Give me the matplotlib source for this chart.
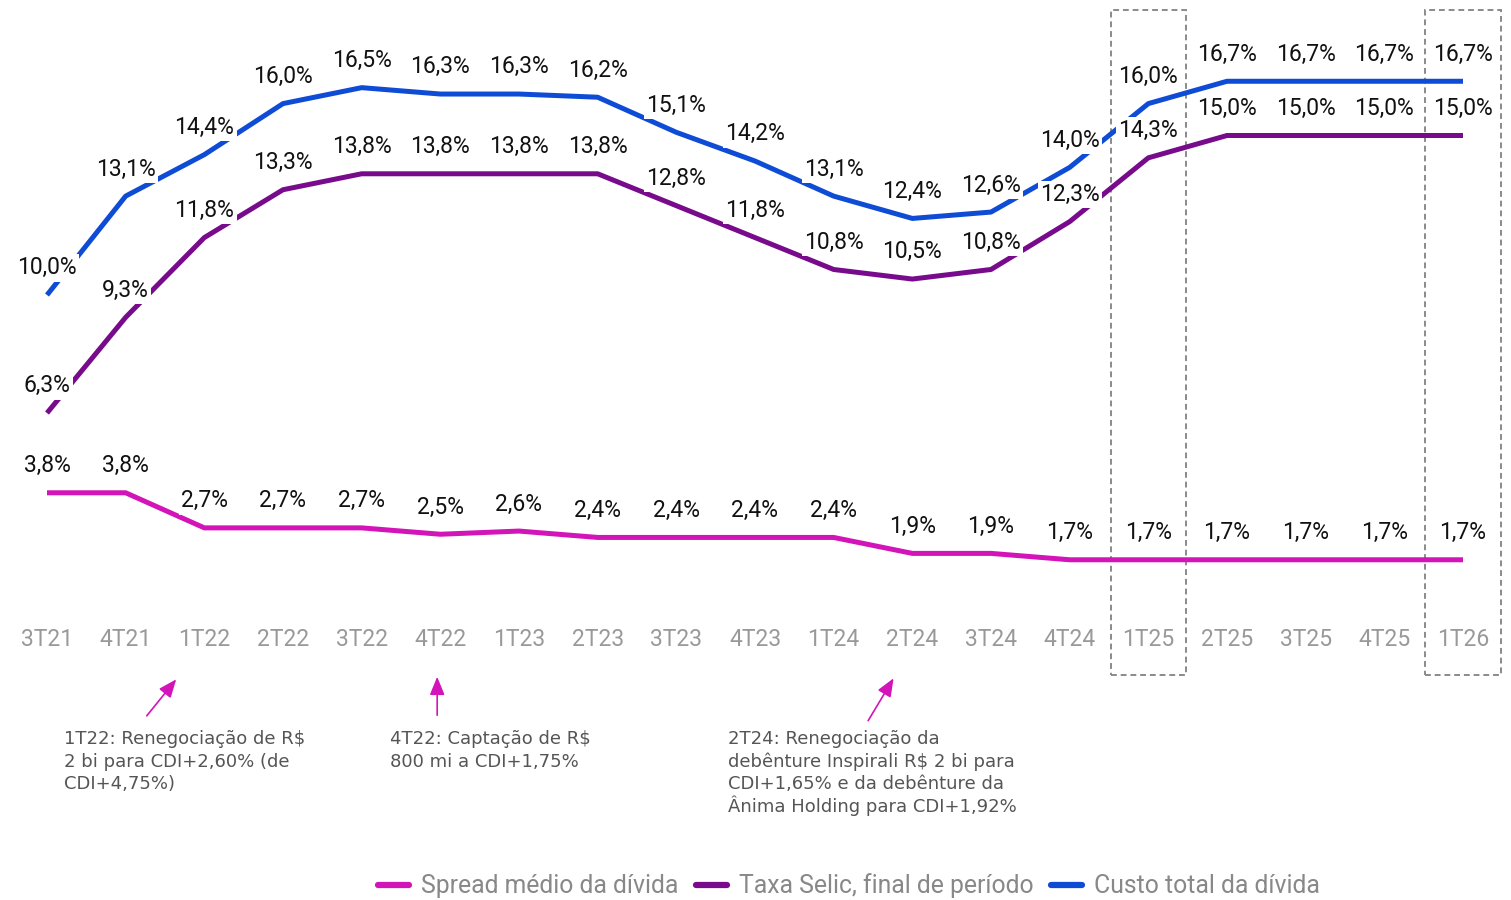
import matplotlib
matplotlib.use("Agg")
import matplotlib.pyplot as plt
from matplotlib import font_manager
from matplotlib.patches import Rectangle

categories = ["3T21", "4T21", "1T22", "2T22", "3T22", "4T22", "1T23", "2T23", "3T23", "4T23",
              "1T24", "2T24", "3T24", "4T24", "1T25", "2T25", "3T25", "4T25", "1T26"]
custo_total = [10.0, 13.1, 14.4, 16.0, 16.5, 16.3, 16.3, 16.2, 15.1, 14.2,
               13.1, 12.4, 12.6, 14.0, 16.0, 16.7, 16.7, 16.7, 16.7]
selic = [6.3, 9.3, 11.8, 13.3, 13.8, 13.8, 13.8, 13.8, 12.8, 11.8,
         10.8, 10.5, 10.8, 12.3, 14.3, 15.0, 15.0, 15.0, 15.0]
spread = [3.8, 3.8, 2.7, 2.7, 2.7, 2.5, 2.6, 2.4, 2.4, 2.4,
          2.4, 1.9, 1.9, 1.7, 1.7, 1.7, 1.7, 1.7, 1.7]
series_names = ["Spread médio da dívida", "Taxa Selic, final de período", "Custo total da dívida"]
highlight = ["1T25", "1T26"]
notes = [
    ("1T22", ["1T22: Renegociação de R$", "2 bi para CDI+2,60% (de", "CDI+4,75%)"]),
    ("4T22", ["4T22: Captação de R$", "800 mi a CDI+1,75%"]),
    ("2T24", ["2T24: Renegociação da", "debênture Inspirali R$ 2 bi para",
              "CDI+1,65% e da debênture da", "Ânima Holding para CDI+1,92%"]),
]

names = {f.name for f in font_manager.fontManager.ttflist}
narrow = "Liberation Sans Narrow" if "Liberation Sans Narrow" in names else "Roboto"

C_SPREAD = "#D214B8"
C_SELIC = "#780B8C"
C_CUSTO = "#0F4CD6"

W, H = 1511, 900
fig = plt.figure(figsize=(W / 100, H / 100), dpi=100)
ax = fig.add_axes([0, (H - 614) / H, 1, 614 / H])
step = (1463 - 47) / 18
ax.set_xlim(-47 / step, 18 + (W - 1463) / step)
k = 31.9
ax.set_ylim(0, 614 / k)
for s in ax.spines.values():
    s.set_visible(False)
ax.set_yticks([])
x = list(range(len(categories)))
ax.set_xticks(x)
ax.set_xticklabels(categories, fontsize=16.5, color="#999999", family=[narrow, "DejaVu Sans"])
ax.tick_params(axis="x", length=0, pad=10)

lw = 3.6
for vals, col, name in [(spread, C_SPREAD, series_names[0]),
                        (selic, C_SELIC, series_names[1]),
                        (custo_total, C_CUSTO, series_names[2])]:
    ax.plot(x, vals, color=col, lw=lw, solid_capstyle="butt", solid_joinstyle="round",
            label=name, zorder=2)

for vals in (spread, selic, custo_total):
    for xi, v in zip(x, vals):
        ax.annotate(f"{v:.1f}%".replace(".", ","), (xi, v), xytext=(0, 19.5), textcoords="offset points",
                    ha="center", va="center", fontsize=16.5, color="#111111",
                    family=[narrow, "DejaVu Sans"], zorder=4,
                    bbox=dict(boxstyle="square,pad=0.1", fc="white", ec="none"))

for cat in highlight:
    i = categories.index(cat)
    r = Rectangle((i - 0.48, -1.91), 0.96, 18.93 + 1.91, fill=False, ec="#8a8a8a",
                  lw=1.4, ls=(0, (3, 2)), clip_on=False, zorder=1)
    ax.add_patch(r)

# arrow tail, head, text anchor offsets relative to category index (data units)
arrow_geom = {"1T22": ((-0.754, -3.26), (-0.335, -1.98), (-1.78, -3.79)),
              "4T22": ((-0.04, -3.26), (-0.04, -1.88), (-0.64, -3.79)),
              "2T24": ((-0.58, -3.42), (-0.22, -1.94), (-2.34, -3.79))}
line_step = 22.5 / k
for cat, lines in notes:
    i = categories.index(cat)
    (tx, ty), (hx, hy), (lx, ly) = arrow_geom[cat]
    ax.annotate("", xy=(i + hx, hy), xytext=(i + tx, ty),
                arrowprops=dict(arrowstyle="-|>,head_length=1.1,head_width=0.45", color=C_SPREAD, lw=1.2),
                annotation_clip=False)
    for j, ln in enumerate(lines):
        ax.text(i + lx, ly - 0.29 - j * line_step, ln, ha="left", va="baseline", fontsize=13,
                color="#555555", family="DejaVu Sans", clip_on=False)

leg = fig.legend(loc="center", bbox_to_anchor=(0.562, 0.0156), ncol=3, frameon=False,
                 handlelength=1.25, handletextpad=0.5, columnspacing=0.7,
                 prop={"family": [narrow, "DejaVu Sans"], "size": 17.8})
for t in leg.get_texts():
    t.set_color("#888888")
for h in leg.legend_handles:
    h.set_linewidth(4.5)
    h.set_solid_capstyle("round")

fig.savefig("out.png", dpi=100)
